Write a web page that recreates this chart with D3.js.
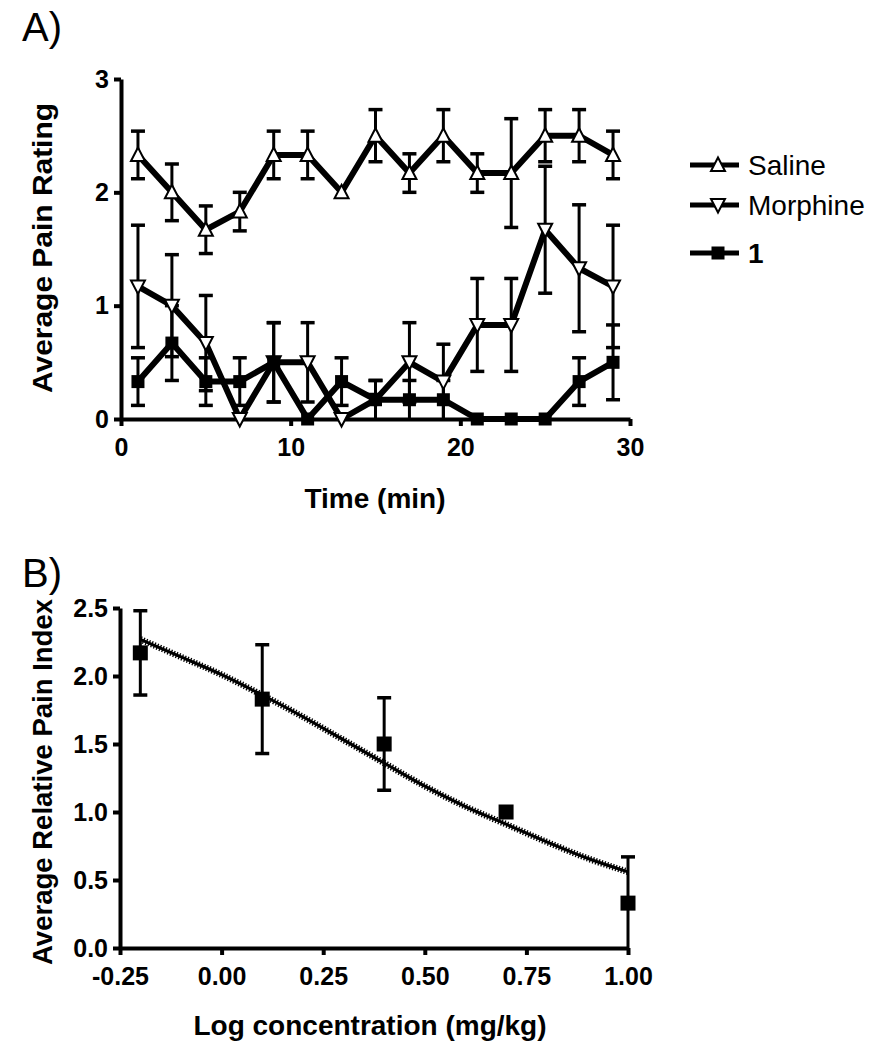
<!DOCTYPE html>
<html><head><meta charset="utf-8">
<script src="https://cdn.jsdelivr.net/npm/d3@7"></script>
<style>body{margin:0;background:#fff;} svg{display:block;font-family:"Liberation Sans",Arial,sans-serif;}</style>
</head><body>
<script>
// ---- Panel A data ----
const timePoints = [1,3,5,7,9,11,13,15,17,19,21,23,25,27,29];
const salineMean = [2.33,2.0,1.67,1.83,2.33,2.33,2.0,2.5,2.17,2.5,2.17,2.17,2.5,2.5,2.33];
const salineErr  = [0.21,0.25,0.21,0.17,0.21,0.21,0,0.23,0.17,0.23,0.17,0.48,0.23,0.23,0.21];
const morphineMean = [1.17,1.0,0.67,0,0.5,0.5,0,0.17,0.5,0.33,0.83,0.83,1.67,1.33,1.17];
const morphineErr  = [0.54,0.45,0.42,0,0.35,0.35,0,0.17,0.35,0.33,0.41,0.41,0.56,0.56,0.54];
const cmpdMean = [0.33,0.67,0.33,0.33,0.5,0,0.33,0.17,0.17,0.17,0,0,0,0.33,0.5];
const cmpdErr  = [0.21,0.33,0.21,0.21,0.35,0,0.21,0.17,0.17,0.17,0,0,0,0.21,0.33];
const seriesNames = ["Saline","Morphine","1"];
const xTicksA = [0,10,20,30];
const yTicksA = [0,1,2,3];

// ---- Panel B data ----
const logConc = [-0.2,0.1,0.4,0.7,1.0];
const relPain = [2.17,1.83,1.5,1.0,0.33];
const relPainErr = [0.31,0.40,0.34,0,0.34];
const fitX = [-0.2,-0.1,0.0,0.1,0.2,0.3,0.4,0.5,0.6,0.7,0.8,0.9,1.0];
const fitY = [2.27,2.14,2.01,1.86,1.70,1.53,1.36,1.19,1.04,0.91,0.78,0.66,0.56];
const xTicksB = [-0.25,0,0.25,0.5,0.75,1.0];
const yTicksB = [0,0.5,1.0,1.5,2.0,2.5];

const svg = d3.select("body").append("svg").attr("width",880).attr("height",1050);
const FONT = "Liberation Sans, Arial, sans-serif";

function styleAxis(g){
  g.attr("font-family",FONT);
  g.select(".domain").attr("stroke","#000").attr("stroke-width",4);
  g.selectAll(".tick line").attr("stroke","#000").attr("stroke-width",4);
  g.selectAll(".tick text").attr("fill","#000").attr("font-weight","bold").attr("font-size",25);
}

// ===== Panel A =====
svg.append("text").attr("x",22).attr("y",41).attr("font-size",40).text("A)");
const xA = d3.scaleLinear().domain([0,30]).range([121,630]);
const yA = d3.scaleLinear().domain([0,3]).range([419,79]);

svg.append("g").attr("transform","translate(0,419)")
  .call(d3.axisBottom(xA).tickValues(xTicksA).tickSize(7).tickSizeOuter(0).tickPadding(12).tickFormat(d3.format("d")))
  .call(styleAxis);
svg.append("g").attr("transform","translate(121,0)")
  .call(d3.axisLeft(yA).tickValues(yTicksA).tickSize(7).tickSizeOuter(0).tickPadding(5).tickFormat(d3.format("d")))
  .call(styleAxis);

svg.append("text").attr("x",375).attr("y",508).attr("text-anchor","middle")
  .attr("font-weight","bold").attr("font-size",28).text("Time (min)");
svg.append("text").attr("transform","translate(52,248) rotate(-90)").attr("text-anchor","middle")
  .attr("font-weight","bold").attr("font-size",27).attr("textLength",290).attr("lengthAdjust","spacingAndGlyphs")
  .text("Average Pain Rating");

const seriesA = [
  {name:seriesNames[0], mean:salineMean, err:salineErr, sym:"up"},
  {name:seriesNames[1], mean:morphineMean, err:morphineErr, sym:"down"},
  {name:seriesNames[2], mean:cmpdMean, err:cmpdErr, sym:"square"}
];

const triUp = "M0,-7.5L7,6L-7,6Z";
const triDown = "M0,7.5L7,-6L-7,-6Z";
function drawMarker(g, sym, x, y, sq){
  if(sym==="square"){
    const s = sq||13;
    g.append("rect").attr("x",x-s/2).attr("y",y-s/2).attr("width",s).attr("height",s).attr("fill","#000");
  } else {
    g.append("path").attr("d", sym==="up"?triUp:triDown).attr("transform",`translate(${x},${y})`)
      .attr("fill","#fff").attr("stroke","#000").attr("stroke-width",2);
  }
}

const capW = 7;
function errBar(g, x, mean, err, yS){
  const lo = Math.max(0, mean-err), hi = mean+err;
  const y1 = yS(lo), y2 = yS(hi);
  g.append("line").attr("x1",x).attr("x2",x).attr("y1",y1).attr("y2",y2).attr("stroke","#000").attr("stroke-width",3);
  g.append("line").attr("x1",x-capW).attr("x2",x+capW).attr("y1",y2).attr("y2",y2).attr("stroke","#000").attr("stroke-width",3.5);
  if(mean-err>0.01)
    g.append("line").attr("x1",x-capW).attr("x2",x+capW).attr("y1",y1).attr("y2",y1).attr("stroke","#000").attr("stroke-width",3.5);
}

seriesA.forEach(s=>{
  const g = svg.append("g");
  timePoints.forEach((t,i)=>{ if(s.err[i]>0) errBar(g, xA(t), s.mean[i], s.err[i], yA); });
});
seriesA.forEach(s=>{
  const line = d3.line().x((d,i)=>xA(timePoints[i])).y(d=>yA(d));
  svg.append("path").attr("d",line(s.mean)).attr("fill","none").attr("stroke","#000")
    .attr("stroke-width",6).attr("stroke-linejoin","miter");
});
seriesA.forEach(s=>{
  const g = svg.append("g");
  timePoints.forEach((t,i)=> drawMarker(g, s.sym, xA(t), yA(s.mean[i])));
});

// legend
const legY = [165,205,253];
seriesA.forEach((s,i)=>{
  const g = svg.append("g");
  g.append("line").attr("x1",690).attr("x2",739).attr("y1",legY[i]).attr("y2",legY[i]).attr("stroke","#000").attr("stroke-width",5);
  drawMarker(g, s.sym, 718, legY[i]);
  g.append("text").attr("x",748).attr("y",legY[i]+10).attr("font-size",28)
    .attr("font-weight", s.name==="1"?"bold":"normal").text(s.name);
});

// ===== Panel B =====
svg.append("text").attr("x",22).attr("y",587).attr("font-size",40).text("B)");
const xB = d3.scaleLinear().domain([-0.25,1.0]).range([120,628]);
const yB = d3.scaleLinear().domain([0,2.5]).range([948,608]);

const fmtB = d => d3.format(".2f")(d).replace("\u2212","-");
svg.append("g").attr("transform","translate(0,948)")
  .call(d3.axisBottom(xB).tickValues(xTicksB).tickSize(7).tickSizeOuter(0).tickPadding(12).tickFormat(fmtB))
  .call(styleAxis);
svg.append("g").attr("transform","translate(120,0)")
  .call(d3.axisLeft(yB).tickValues(yTicksB).tickSize(7).tickSizeOuter(0).tickPadding(5).tickFormat(d3.format(".1f")))
  .call(styleAxis);

svg.append("text").attr("x",370).attr("y",1035).attr("text-anchor","middle")
  .attr("font-weight","bold").attr("font-size",28).text("Log concentration (mg/kg)");
svg.append("text").attr("transform","translate(52,782) rotate(-90)").attr("text-anchor","middle")
  .attr("font-weight","bold").attr("font-size",27).attr("textLength",366).attr("lengthAdjust","spacingAndGlyphs")
  .text("Average Relative Pain Index");

const gB = svg.append("g");
logConc.forEach((c,i)=>{ if(relPainErr[i]>0) errBar(gB, xB(c), relPain[i], relPainErr[i], yB); });
// fit curve
const fitLine = d3.line().x((d,i)=>xB(fitX[i])).y(d=>yB(d)).curve(d3.curveMonotoneX);
svg.append("path").attr("d",fitLine(fitY)).attr("fill","none").attr("stroke","#000").attr("stroke-width",3);
svg.append("path").attr("d",fitLine(fitY)).attr("fill","none").attr("stroke","#000").attr("stroke-width",6.5)
  .attr("stroke-dasharray","1.3,1.7");
const gBm = svg.append("g");
logConc.forEach((c,i)=> drawMarker(gBm, "square", xB(c), yB(relPain[i]), 15));
</script>
</body></html>
